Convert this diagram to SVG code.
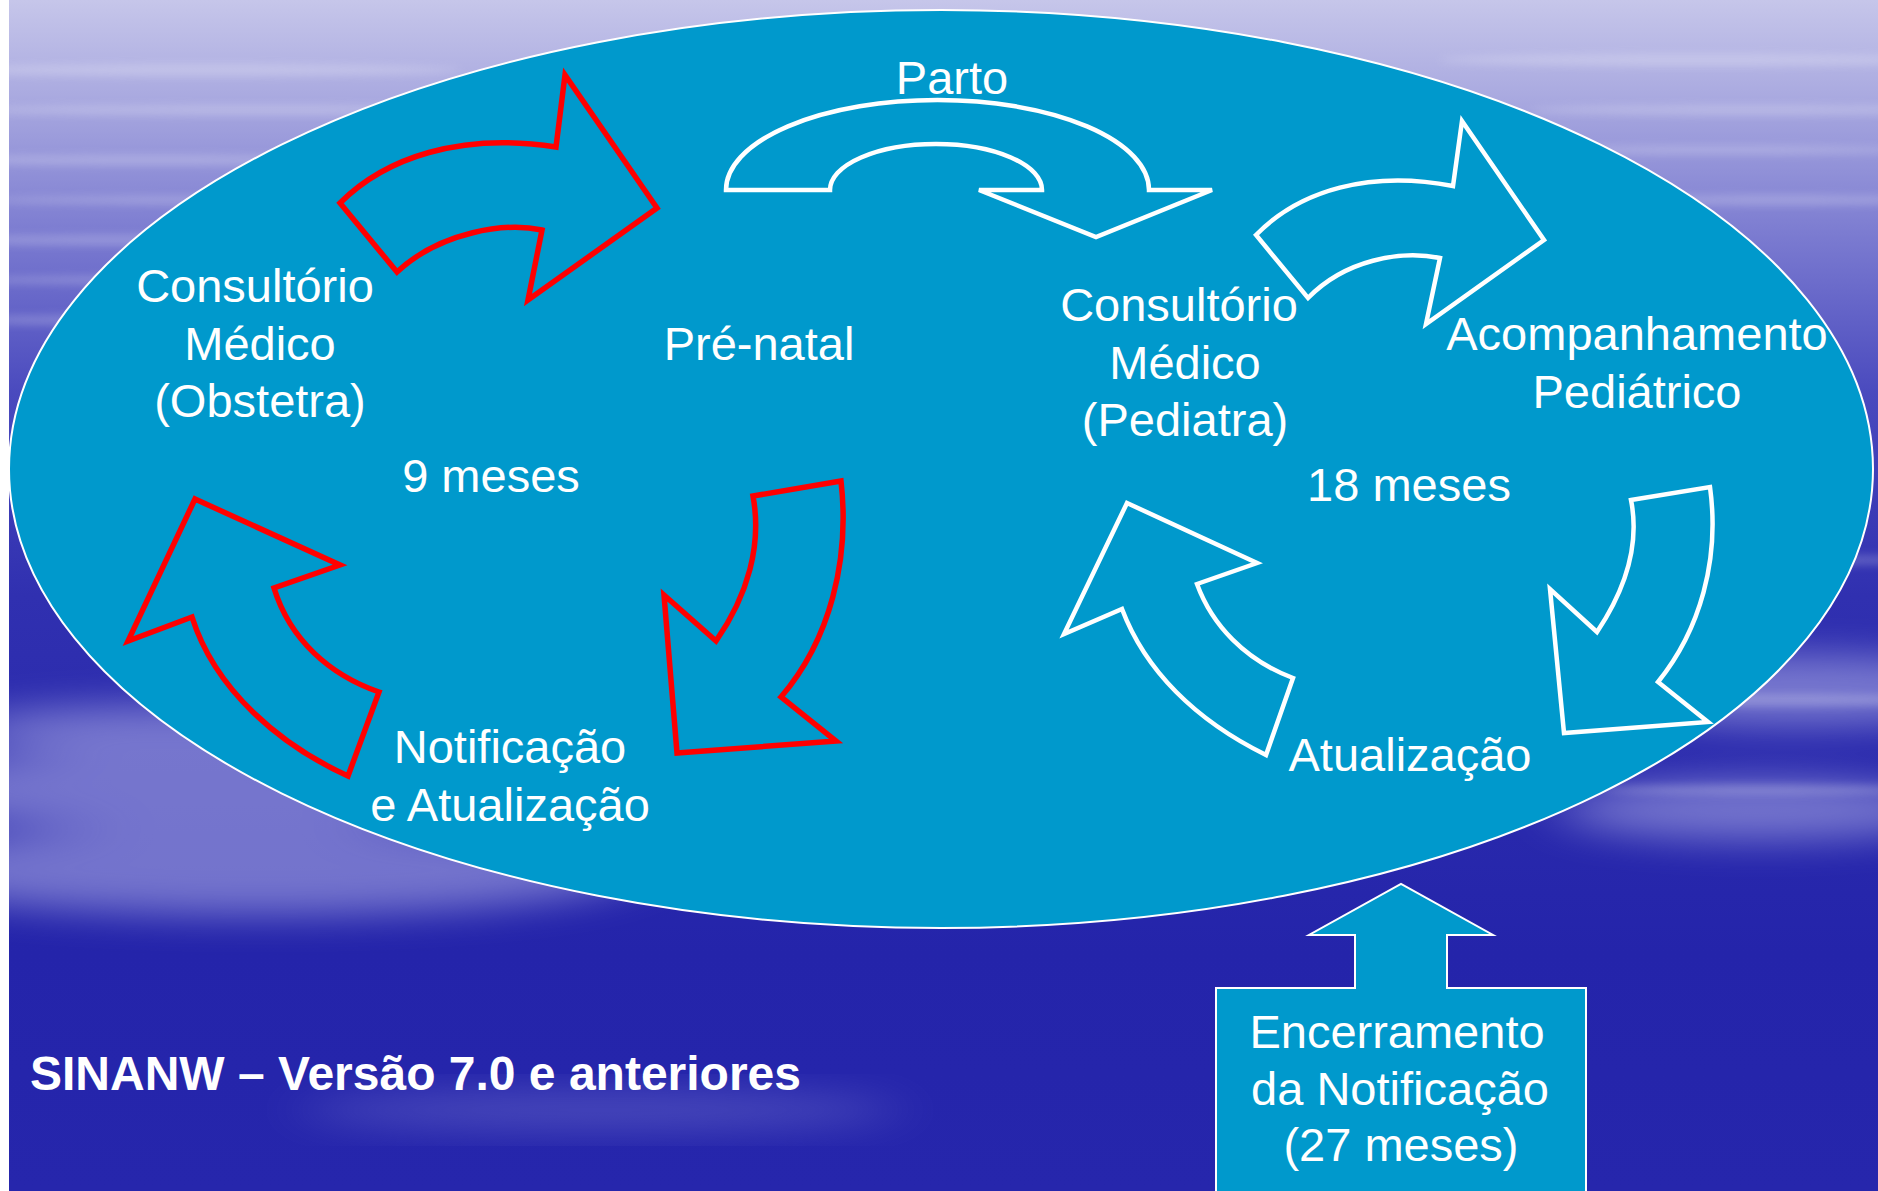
<svg xmlns="http://www.w3.org/2000/svg" width="1878" height="1191" viewBox="0 0 1878 1191">
<defs>
<linearGradient id="bg" x1="0" y1="0" x2="0" y2="1">
<stop offset="0" stop-color="#c6c6ea"/>
<stop offset="0.08" stop-color="#aaaae0"/>
<stop offset="0.2" stop-color="#7a7ad0"/>
<stop offset="0.33" stop-color="#4a4abe"/>
<stop offset="0.5" stop-color="#3030b0"/>
<stop offset="0.8" stop-color="#2424aa"/>
<stop offset="1" stop-color="#2626ac"/>
</linearGradient>
<filter id="blur" x="-20%" y="-50%" width="140%" height="200%"><feGaussianBlur stdDeviation="6 4"/></filter>
<filter id="blur2" x="-20%" y="-50%" width="140%" height="200%"><feGaussianBlur stdDeviation="30 18"/></filter>
<style>
.ell{fill:#0099cc;stroke:#ffffff;stroke-width:2}
.red{fill:none;stroke:#ff0000;stroke-width:5.5;stroke-linejoin:miter}
.wht{fill:none;stroke:#ffffff;stroke-width:4.5;stroke-linejoin:miter}
.box{fill:#0099cc;stroke:#ffffff;stroke-width:2}
.t{font-family:"Liberation Sans",Arial,sans-serif;font-size:47px;fill:#ffffff;text-anchor:middle}
.b{font-family:"Liberation Sans",Arial,sans-serif;font-size:48px;font-weight:bold;fill:#ffffff}
</style>
</defs>
<g id="background">
<rect x="0" y="0" width="1878" height="1191" fill="url(#bg)"/>
<g filter="url(#blur2)" fill="#c0c0ee" opacity="0.5">
<ellipse cx="200" cy="790" rx="320" ry="40"/>
<ellipse cx="260" cy="870" rx="380" ry="45"/>
<ellipse cx="160" cy="730" rx="200" ry="25"/>
<ellipse cx="1800" cy="690" rx="220" ry="35"/>
<ellipse cx="1760" cy="810" rx="200" ry="30"/>
</g>
<g filter="url(#blur2)" fill="#c0c0ee" opacity="0.25">
<ellipse cx="600" cy="1110" rx="300" ry="18"/>
</g>
<g filter="url(#blur)" fill="#ffffff" opacity="0.22">
<ellipse cx="200" cy="70" rx="260" ry="6"/>
<ellipse cx="260" cy="110" rx="300" ry="5"/>
<ellipse cx="150" cy="160" rx="220" ry="5"/>
<ellipse cx="220" cy="200" rx="240" ry="4"/>
<ellipse cx="120" cy="240" rx="180" ry="5"/>
<ellipse cx="150" cy="280" rx="200" ry="4"/>
<ellipse cx="100" cy="320" rx="140" ry="5"/>
<ellipse cx="1700" cy="60" rx="260" ry="6"/>
<ellipse cx="1750" cy="110" rx="220" ry="5"/>
<ellipse cx="1720" cy="150" rx="200" ry="4"/>
<ellipse cx="1780" cy="200" rx="160" ry="5"/>
<ellipse cx="1820" cy="560" rx="120" ry="5"/>
<ellipse cx="1780" cy="700" rx="180" ry="6"/>
<ellipse cx="1760" cy="790" rx="160" ry="5"/>
</g>
<rect x="0" y="0" width="9" height="1191" fill="#ffffff"/>
</g>
<g id="cycle-ellipse">
<ellipse class="ell" cx="941" cy="469" rx="932" ry="459"/>
</g>
<g id="connectors">
<path id="arrow-red-1" class="red" d="M340,203 C385,158 460,132 556,147 L565,75 L657,208 L528,300 L542,230 C505,222 440,232 397,272 Z"/>
<path id="arrow-red-2" class="red" d="M753,496 L841,481 C850,560 830,640 781,697 L836,741 L677,753 L664,595 L716,641 C748,595 762,545 753,496 Z"/>
<path id="arrow-red-3" class="red" d="M195,499 L340,565 L274,588 C290,640 330,675 379,692 L348,776 C280,745 215,690 192,617 L128,641 Z"/>
<path id="arrow-parto" class="wht" d="M726,190 A211.5,90 0 0 1 1149,190 L1212,190 L1096,237 L979,190 L1042,190 A106,46 0 0 0 830,190 Z"/>
<path id="arrow-white-1" class="wht" d="M1256,235 C1300,190 1370,170 1453,186 L1462,121 L1544,240 L1426,324 L1440,258 C1400,250 1345,260 1308,298 Z"/>
<path id="arrow-white-2" class="wht" d="M1631,500 L1710,487 C1720,560 1700,630 1658,682 L1708,722 L1564,733 L1550,589 L1597,632 C1625,590 1640,545 1631,500 Z"/>
<path id="arrow-white-3" class="wht" d="M1127,503 L1257,563 L1197,584 C1212,625 1245,660 1293,678 L1266,755 C1195,720 1145,670 1122,609 L1064,634 Z"/>
</g>
<g id="node-parto"><text class="t" x="952" y="94">Parto</text></g>
<g id="node-obstetra"><text class="t" x="255" y="302">Consultório</text><text class="t" x="260" y="360">Médico</text><text class="t" x="260" y="417">(Obstetra)</text></g>
<g id="node-prenatal"><text class="t" x="759" y="360">Pré-natal</text></g>
<g id="node-9meses"><text class="t" x="491" y="492">9 meses</text></g>
<g id="node-notificacao"><text class="t" x="510" y="763">Notificação</text><text class="t" x="510" y="821">e Atualização</text></g>
<g id="node-pediatra"><text class="t" x="1179" y="321">Consultório</text><text class="t" x="1185" y="379">Médico</text><text class="t" x="1185" y="436">(Pediatra)</text></g>
<g id="node-acompanhamento"><text class="t" x="1637" y="350">Acompanhamento</text><text class="t" x="1637" y="408">Pediátrico</text></g>
<g id="node-18meses"><text class="t" x="1409" y="501">18 meses</text></g>
<g id="node-atualizacao"><text class="t" x="1410" y="771">Atualização</text></g>
<g id="node-encerramento">
<path class="box" d="M1216,1195 L1216,988 L1355,988 L1355,935 L1309,935 L1401,884 L1493,935 L1447,935 L1447,988 L1586,988 L1586,1195 Z"/>
<text class="t" x="1397" y="1048">Encerramento</text><text class="t" x="1400" y="1105">da Notificação</text><text class="t" x="1401" y="1161">(27 meses)</text>
</g>
<g id="title"><text class="b" x="30" y="1090">SINANW – Versão 7.0 e anteriores</text></g>
</svg>
